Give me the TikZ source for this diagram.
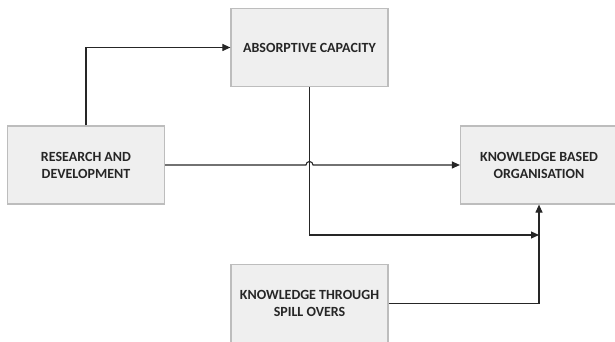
\documentclass[tikz,border=0pt]{standalone}
\usepackage{fontspec}
\setmainfont{Carlito}
\usetikzlibrary{arrows.meta,calc}
\definecolor{boxfill}{HTML}{EFEFEF}
\definecolor{boxline}{HTML}{BDBDBD}
\definecolor{linec}{HTML}{262626}
\begin{document}
\begin{tikzpicture}[x=1pt,y=1pt,
  box/.style={draw=boxline, line width=1.2pt, fill=boxfill, minimum width=157pt, minimum height=78pt,
    align=center, font=\bfseries\fontsize{14}{17}\selectfont, text=black!85, inner sep=0pt},
  conn/.style={draw=linec, line width=1.1pt},
  arr/.style={conn, -{Triangle[length=8pt,width=7pt]}}]
\useasboundingbox (0,0) rectangle (615,342);
\node[box] (abs) at (309.5,294.5) {ABSORPTIVE CAPACITY};
\node[box] (rd) at (86,177) {RESEARCH AND\\DEVELOPMENT};
\node[box] (kbo) at (539,177) {KNOWLEDGE BASED\\ORGANISATION};
\node[box] (ktso) at (309.5,38.5) {KNOWLEDGE THROUGH\\SPILL OVERS};
\coordinate (j) at (kbo.south |- 0,107);
\draw[arr] (rd.north) |- (abs.west);
\draw[arr] (rd.east) -- ($(abs.south |- rd.east)+(-3.5,0)$) arc[start angle=180,end angle=0,radius=3.5] -- (kbo.west);
\draw[arr] (abs.south) |- (j);
\draw[arr] (ktso.east) -| (kbo.south);
\end{tikzpicture}
\end{document}
